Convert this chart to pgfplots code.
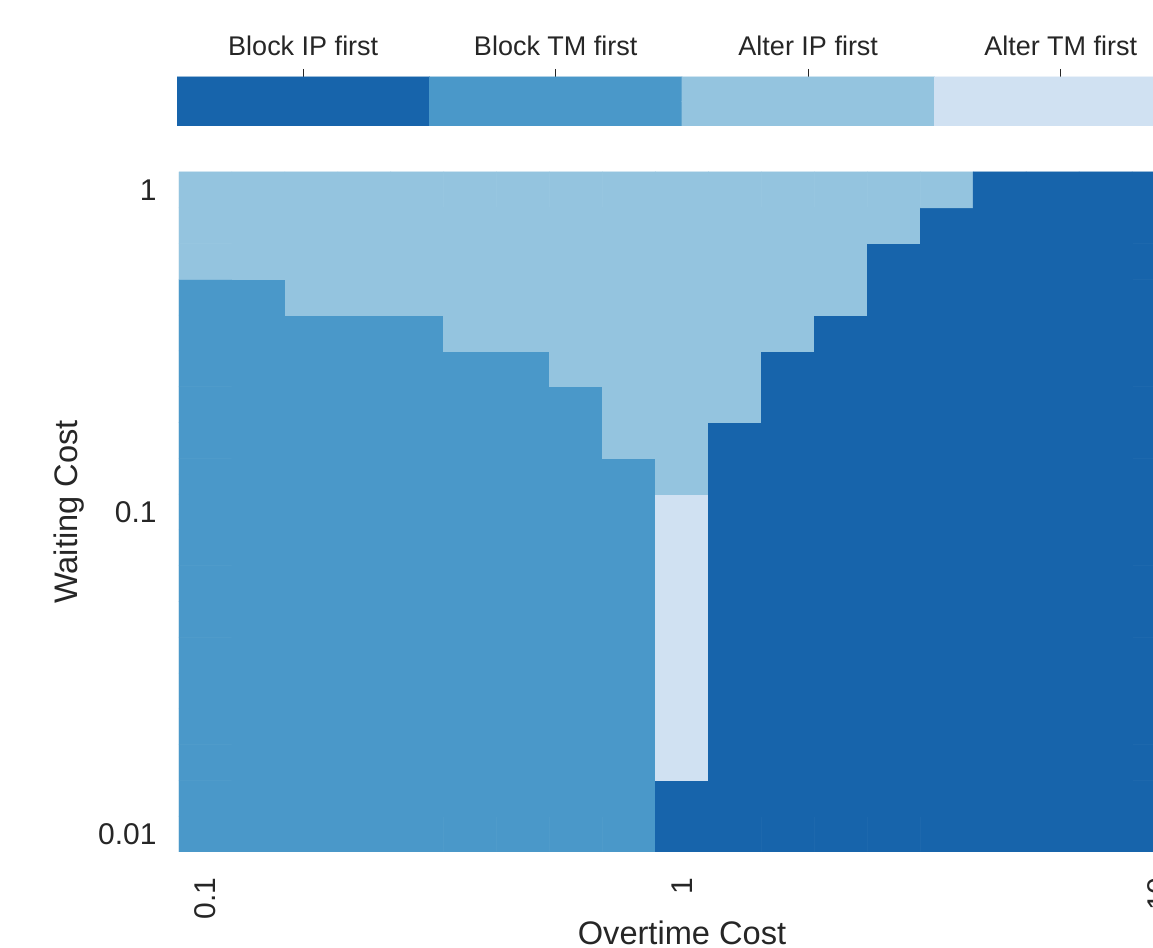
\documentclass[border=0pt]{standalone}
\usepackage{pgfplots}
\pgfplotsset{compat=1.18}
\usepackage{fontspec}
\setmainfont{Liberation Sans}
\definecolor{txt}{RGB}{38,38,38}
\begin{document}
\begin{tikzpicture}
\pgfplotsset{
  colormap={cats}{rgb255(0)=(23,100,171) rgb255(1)=(74,152,201) rgb255(2)=(148,196,223) rgb255(3)=(208,225,242)},
}
% heatmap
\begin{axis}[
  at={(0,0)}, anchor=south west,
  scale only axis, width=503pt, height=340pt,
  xmin=-0.5, xmax=18.5, ymin=-0.5, ymax=18.5,
  axis line style={draw=none},
  major tick length=0pt, tick style={draw=none},
  xtick={0,9,18}, xticklabels={0.1,1,10},
  ytick={0,9,18}, yticklabels={0.01,0.1,1},
  xticklabel style={rotate=90, anchor=east, inner sep=0pt, xshift=-12.5pt, text=txt, font=\fontsize{15}{18}\selectfont},
  yticklabel style={anchor=east, inner sep=0pt, xshift=-11pt, text=txt, font=\fontsize{15}{18}\selectfont},
  xlabel={Overtime Cost}, ylabel={Waiting Cost},
  every axis x label/.style={at={(axis description cs:0.5,-0.1353)}, anchor=base, inner sep=0pt, text=txt, font=\fontsize{16.3}{19}\selectfont},
  every axis y label/.style={at={(axis description cs:-0.0934,0.5)}, rotate=90, anchor=south, inner sep=0pt, text=txt, font=\fontsize{16.3}{19}\selectfont},
  colormap name=cats, point meta min=0, point meta max=3,
]
\addplot[matrix plot*, mesh/cols=19, point meta=explicit, shader=faceted, faceted color=mapped color, line width=0.3pt] coordinates {
(0,0)[1] (1,0)[1] (2,0)[1] (3,0)[1] (4,0)[1] (5,0)[1] (6,0)[1] (7,0)[1] (8,0)[1] (9,0)[0] (10,0)[0] (11,0)[0] (12,0)[0] (13,0)[0] (14,0)[0] (15,0)[0] (16,0)[0] (17,0)[0] (18,0)[0]

(0,1)[1] (1,1)[1] (2,1)[1] (3,1)[1] (4,1)[1] (5,1)[1] (6,1)[1] (7,1)[1] (8,1)[1] (9,1)[0] (10,1)[0] (11,1)[0] (12,1)[0] (13,1)[0] (14,1)[0] (15,1)[0] (16,1)[0] (17,1)[0] (18,1)[0]

(0,2)[1] (1,2)[1] (2,2)[1] (3,2)[1] (4,2)[1] (5,2)[1] (6,2)[1] (7,2)[1] (8,2)[1] (9,2)[3] (10,2)[0] (11,2)[0] (12,2)[0] (13,2)[0] (14,2)[0] (15,2)[0] (16,2)[0] (17,2)[0] (18,2)[0]

(0,3)[1] (1,3)[1] (2,3)[1] (3,3)[1] (4,3)[1] (5,3)[1] (6,3)[1] (7,3)[1] (8,3)[1] (9,3)[3] (10,3)[0] (11,3)[0] (12,3)[0] (13,3)[0] (14,3)[0] (15,3)[0] (16,3)[0] (17,3)[0] (18,3)[0]

(0,4)[1] (1,4)[1] (2,4)[1] (3,4)[1] (4,4)[1] (5,4)[1] (6,4)[1] (7,4)[1] (8,4)[1] (9,4)[3] (10,4)[0] (11,4)[0] (12,4)[0] (13,4)[0] (14,4)[0] (15,4)[0] (16,4)[0] (17,4)[0] (18,4)[0]

(0,5)[1] (1,5)[1] (2,5)[1] (3,5)[1] (4,5)[1] (5,5)[1] (6,5)[1] (7,5)[1] (8,5)[1] (9,5)[3] (10,5)[0] (11,5)[0] (12,5)[0] (13,5)[0] (14,5)[0] (15,5)[0] (16,5)[0] (17,5)[0] (18,5)[0]

(0,6)[1] (1,6)[1] (2,6)[1] (3,6)[1] (4,6)[1] (5,6)[1] (6,6)[1] (7,6)[1] (8,6)[1] (9,6)[3] (10,6)[0] (11,6)[0] (12,6)[0] (13,6)[0] (14,6)[0] (15,6)[0] (16,6)[0] (17,6)[0] (18,6)[0]

(0,7)[1] (1,7)[1] (2,7)[1] (3,7)[1] (4,7)[1] (5,7)[1] (6,7)[1] (7,7)[1] (8,7)[1] (9,7)[3] (10,7)[0] (11,7)[0] (12,7)[0] (13,7)[0] (14,7)[0] (15,7)[0] (16,7)[0] (17,7)[0] (18,7)[0]

(0,8)[1] (1,8)[1] (2,8)[1] (3,8)[1] (4,8)[1] (5,8)[1] (6,8)[1] (7,8)[1] (8,8)[1] (9,8)[3] (10,8)[0] (11,8)[0] (12,8)[0] (13,8)[0] (14,8)[0] (15,8)[0] (16,8)[0] (17,8)[0] (18,8)[0]

(0,9)[1] (1,9)[1] (2,9)[1] (3,9)[1] (4,9)[1] (5,9)[1] (6,9)[1] (7,9)[1] (8,9)[1] (9,9)[3] (10,9)[0] (11,9)[0] (12,9)[0] (13,9)[0] (14,9)[0] (15,9)[0] (16,9)[0] (17,9)[0] (18,9)[0]

(0,10)[1] (1,10)[1] (2,10)[1] (3,10)[1] (4,10)[1] (5,10)[1] (6,10)[1] (7,10)[1] (8,10)[1] (9,10)[2] (10,10)[0] (11,10)[0] (12,10)[0] (13,10)[0] (14,10)[0] (15,10)[0] (16,10)[0] (17,10)[0] (18,10)[0]

(0,11)[1] (1,11)[1] (2,11)[1] (3,11)[1] (4,11)[1] (5,11)[1] (6,11)[1] (7,11)[1] (8,11)[2] (9,11)[2] (10,11)[0] (11,11)[0] (12,11)[0] (13,11)[0] (14,11)[0] (15,11)[0] (16,11)[0] (17,11)[0] (18,11)[0]

(0,12)[1] (1,12)[1] (2,12)[1] (3,12)[1] (4,12)[1] (5,12)[1] (6,12)[1] (7,12)[1] (8,12)[2] (9,12)[2] (10,12)[2] (11,12)[0] (12,12)[0] (13,12)[0] (14,12)[0] (15,12)[0] (16,12)[0] (17,12)[0] (18,12)[0]

(0,13)[1] (1,13)[1] (2,13)[1] (3,13)[1] (4,13)[1] (5,13)[1] (6,13)[1] (7,13)[2] (8,13)[2] (9,13)[2] (10,13)[2] (11,13)[0] (12,13)[0] (13,13)[0] (14,13)[0] (15,13)[0] (16,13)[0] (17,13)[0] (18,13)[0]

(0,14)[1] (1,14)[1] (2,14)[1] (3,14)[1] (4,14)[1] (5,14)[2] (6,14)[2] (7,14)[2] (8,14)[2] (9,14)[2] (10,14)[2] (11,14)[2] (12,14)[0] (13,14)[0] (14,14)[0] (15,14)[0] (16,14)[0] (17,14)[0] (18,14)[0]

(0,15)[1] (1,15)[1] (2,15)[2] (3,15)[2] (4,15)[2] (5,15)[2] (6,15)[2] (7,15)[2] (8,15)[2] (9,15)[2] (10,15)[2] (11,15)[2] (12,15)[2] (13,15)[0] (14,15)[0] (15,15)[0] (16,15)[0] (17,15)[0] (18,15)[0]

(0,16)[2] (1,16)[2] (2,16)[2] (3,16)[2] (4,16)[2] (5,16)[2] (6,16)[2] (7,16)[2] (8,16)[2] (9,16)[2] (10,16)[2] (11,16)[2] (12,16)[2] (13,16)[0] (14,16)[0] (15,16)[0] (16,16)[0] (17,16)[0] (18,16)[0]

(0,17)[2] (1,17)[2] (2,17)[2] (3,17)[2] (4,17)[2] (5,17)[2] (6,17)[2] (7,17)[2] (8,17)[2] (9,17)[2] (10,17)[2] (11,17)[2] (12,17)[2] (13,17)[2] (14,17)[0] (15,17)[0] (16,17)[0] (17,17)[0] (18,17)[0]

(0,18)[2] (1,18)[2] (2,18)[2] (3,18)[2] (4,18)[2] (5,18)[2] (6,18)[2] (7,18)[2] (8,18)[2] (9,18)[2] (10,18)[2] (11,18)[2] (12,18)[2] (13,18)[2] (14,18)[2] (15,18)[0] (16,18)[0] (17,18)[0] (18,18)[0]
};
\end{axis}
% categorical colour bar
\begin{axis}[
  at={(-1pt,363pt)}, anchor=south west,
  scale only axis, width=505pt, height=24.5pt,
  xmin=-0.5, xmax=3.5, ymin=-0.5, ymax=1.5,
  axis line style={draw=none},
  ytick=\empty,
  xtick={0,1,2,3},
  xticklabels={Block IP first,Block TM first,Alter IP first,Alter TM first},
  xtick pos=upper, xticklabel pos=upper,
  tick align=outside, major tick length=4pt,
  tick style={draw=txt, line width=0.7pt},
  xticklabel style={anchor=base, inner sep=0pt, yshift=6.5pt, text=txt, font=\fontsize{13.5}{16}\selectfont},
  colormap name=cats, point meta min=0, point meta max=3,
]
\addplot[matrix plot*, mesh/cols=4, point meta=explicit, shader=faceted, faceted color=mapped color, line width=0.3pt] coordinates {
(0,0)[0] (1,0)[1] (2,0)[2] (3,0)[3]

(0,1)[0] (1,1)[1] (2,1)[2] (3,1)[3]
};
\end{axis}
\pgfresetboundingbox
\path[use as bounding box] (-89.5pt,-48pt) rectangle (487pt,426pt);
\end{tikzpicture}
\end{document}
